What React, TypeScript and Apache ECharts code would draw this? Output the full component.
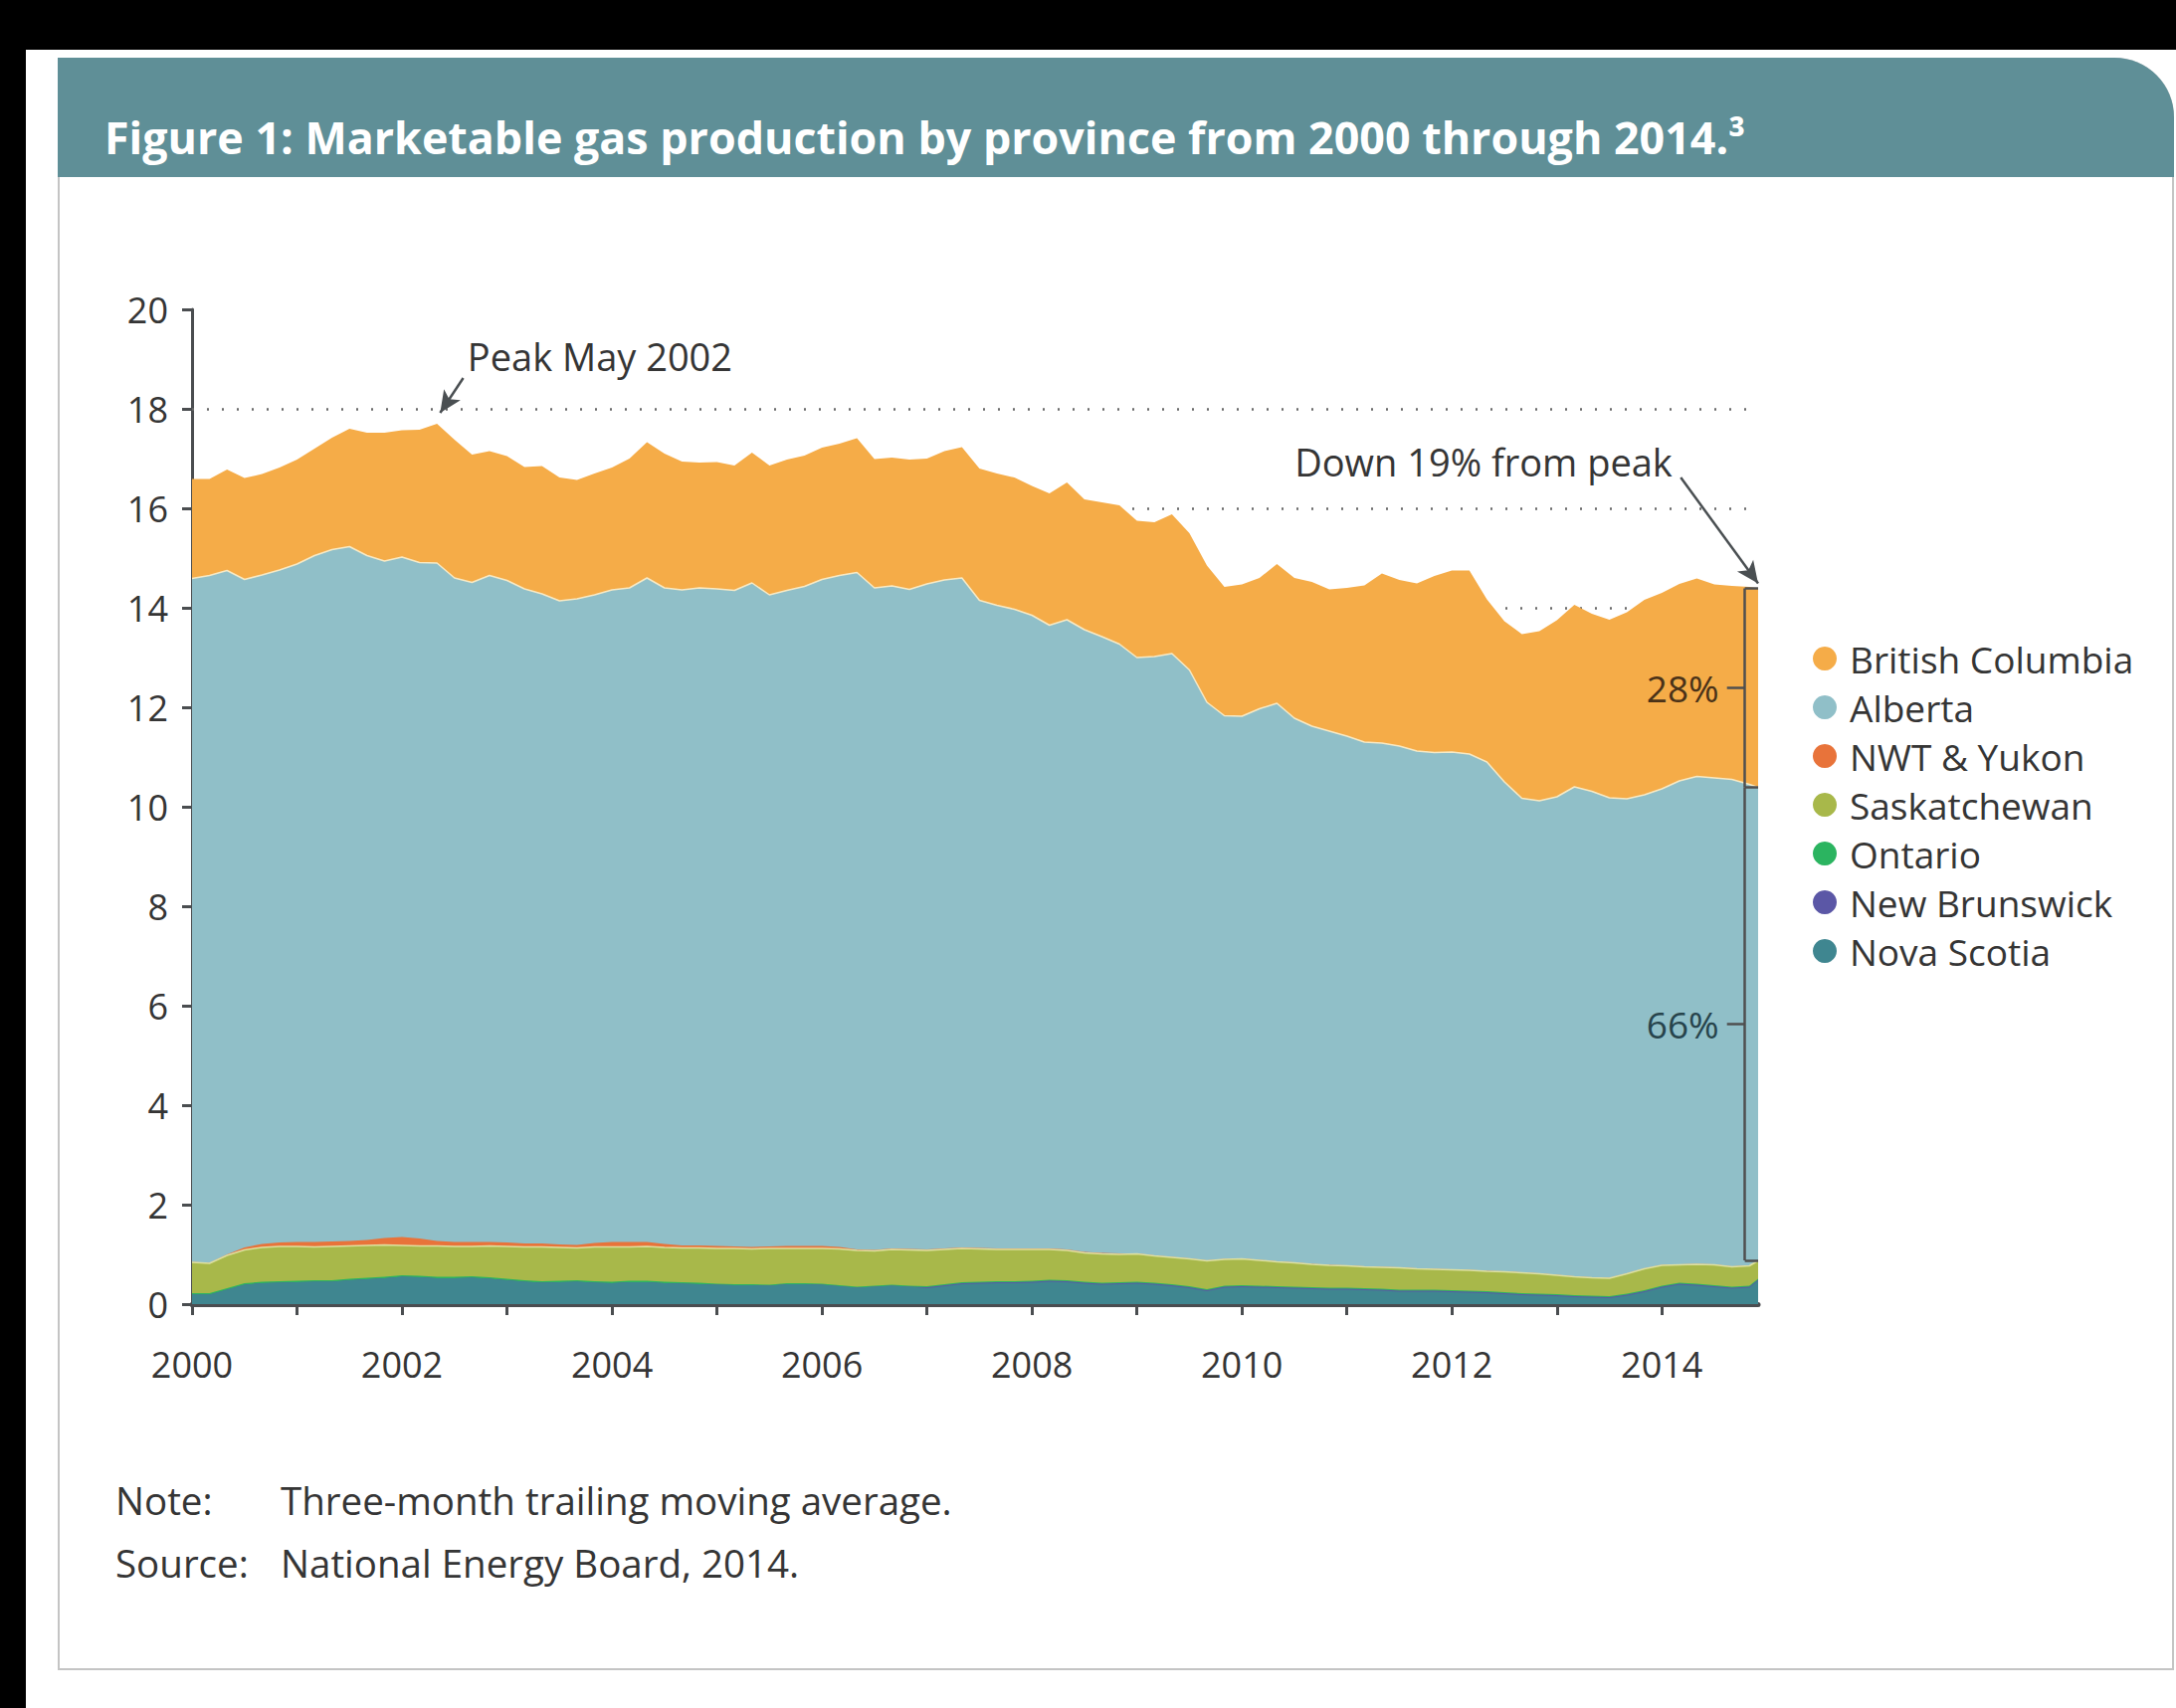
import React, { useEffect, useRef } from "react";
import * as echarts from "echarts";

// x sampling: every second month from Jan 2000, plus Dec 2014 (month index from Jan 2000)
const sampleMonths: number[] = [];
for (let m = 0; m < 180; m += 2) sampleMonths.push(m);
sampleMonths.push(179);

const tickYears = [2000, 2001, 2002, 2003, 2004, 2005, 2006, 2007, 2008, 2009, 2010, 2011, 2012, 2013, 2014];
const labelYears = [2000, 2002, 2004, 2006, 2008, 2010, 2012, 2014];
const guideLevels = [14, 16, 18];

const legendNames = ["British Columbia", "Alberta", "NWT & Yukon", "Saskatchewan", "Ontario", "New Brunswick", "Nova Scotia"];

const britishColumbia = [
  2.00, 1.94, 2.03, 2.04, 2.03, 2.06, 2.10, 2.15, 2.25, 2.37,
  2.47, 2.58, 2.55, 2.67, 2.80, 2.78, 2.57, 2.50, 2.50, 2.45,
  2.57, 2.48, 2.39, 2.44, 2.46, 2.60, 2.73, 2.70, 2.58, 2.52,
  2.55, 2.51, 2.62, 2.60, 2.63, 2.63, 2.65, 2.65, 2.70, 2.59,
  2.58, 2.61, 2.52, 2.59, 2.63, 2.65, 2.65, 2.65, 2.60, 2.65,
  2.76, 2.62, 2.70, 2.79, 2.75, 2.70, 2.80, 2.75, 2.75, 2.59,
  2.65, 2.63, 2.80, 2.82, 2.90, 2.85, 2.98, 3.15, 3.41, 3.34,
  3.37, 3.55, 3.65, 3.69, 3.27, 3.23, 3.30, 3.41, 3.55, 3.66,
  3.57, 3.58, 3.75, 3.92, 3.94, 3.96, 3.98, 3.89, 3.89, 3.97,
  4.00,
];
const alberta = [
  13.74, 13.82, 13.75, 13.43, 13.45, 13.52, 13.63, 13.80, 13.91, 13.96,
  13.76, 13.61, 13.67, 13.59, 13.63, 13.35, 13.26, 13.40, 13.31, 13.16,
  13.06, 12.94, 12.99, 13.03, 13.11, 13.15, 13.35, 13.19, 13.18, 13.22,
  13.21, 13.19, 13.35, 13.10, 13.18, 13.26, 13.40, 13.50, 13.61, 13.31,
  13.32, 13.26, 13.38, 13.44, 13.46, 13.02, 12.93, 12.85, 12.73, 12.53,
  12.66, 12.51, 12.39, 12.25, 11.98, 12.04, 12.13, 11.83, 11.22, 10.92,
  10.90, 11.08, 11.22, 10.94, 10.81, 10.73, 10.64, 10.54, 10.53, 10.48,
  10.40, 10.38, 10.40, 10.37, 10.23, 9.84, 9.53, 9.50, 9.61, 9.84,
  9.77, 9.65, 9.54, 9.52, 9.57, 9.72, 9.80, 9.78, 9.79, 9.67,
  9.51,
];
const nwtYukon = [
  0.01, 0.01, 0.02, 0.05, 0.07, 0.08, 0.09, 0.10, 0.10, 0.10,
  0.11, 0.14, 0.17, 0.15, 0.10, 0.09, 0.09, 0.08, 0.08, 0.07,
  0.07, 0.06, 0.06, 0.08, 0.10, 0.10, 0.09, 0.07, 0.05, 0.05,
  0.05, 0.04, 0.04, 0.04, 0.05, 0.05, 0.05, 0.04, 0.02, 0.02,
  0.02, 0.02, 0.02, 0.02, 0.02, 0.02, 0.02, 0.02, 0.02, 0.02,
  0.02, 0.02, 0.02, 0.02, 0.01, 0.01, 0.01, 0.01, 0.01, 0.01,
  0.01, 0.01, 0.01, 0.01, 0.01, 0.01, 0.01, 0.01, 0.01, 0.01,
  0.01, 0.01, 0.01, 0.01, 0.01, 0.01, 0.01, 0.01, 0.01, 0.01,
  0.01, 0.01, 0.01, 0.01, 0.01, 0.01, 0.01, 0.01, 0.01, 0.01,
  0.01,
];
const saskatchewan = [
  0.62, 0.60, 0.66, 0.67, 0.69, 0.70, 0.69, 0.67, 0.68, 0.66,
  0.65, 0.64, 0.60, 0.60, 0.62, 0.61, 0.60, 0.63, 0.65, 0.67,
  0.69, 0.67, 0.65, 0.69, 0.70, 0.68, 0.69, 0.69, 0.69, 0.70,
  0.71, 0.72, 0.71, 0.73, 0.70, 0.70, 0.71, 0.73, 0.73, 0.70,
  0.71, 0.72, 0.72, 0.70, 0.68, 0.66, 0.64, 0.64, 0.63, 0.61,
  0.60, 0.58, 0.58, 0.56, 0.56, 0.54, 0.54, 0.55, 0.57, 0.53,
  0.53, 0.51, 0.49, 0.48, 0.46, 0.45, 0.44, 0.43, 0.43, 0.44,
  0.42, 0.41, 0.41, 0.41, 0.40, 0.41, 0.41, 0.40, 0.38, 0.37,
  0.36, 0.36, 0.40, 0.43, 0.41, 0.36, 0.39, 0.41, 0.40, 0.40,
  0.36,
];
const ontario = [
  0.03, 0.03, 0.03, 0.03, 0.03, 0.03, 0.03, 0.03, 0.03, 0.03,
  0.03, 0.03, 0.03, 0.03, 0.03, 0.03, 0.03, 0.03, 0.03, 0.03,
  0.03, 0.03, 0.03, 0.03, 0.03, 0.03, 0.03, 0.03, 0.03, 0.03,
  0.02, 0.02, 0.02, 0.02, 0.02, 0.02, 0.02, 0.02, 0.02, 0.02,
  0.02, 0.02, 0.02, 0.02, 0.02, 0.02, 0.02, 0.02, 0.02, 0.02,
  0.02, 0.02, 0.02, 0.02, 0.02, 0.02, 0.02, 0.02, 0.02, 0.02,
  0.02, 0.02, 0.02, 0.02, 0.02, 0.02, 0.02, 0.02, 0.02, 0.02,
  0.02, 0.02, 0.02, 0.02, 0.02, 0.02, 0.02, 0.02, 0.02, 0.02,
  0.02, 0.02, 0.02, 0.02, 0.02, 0.02, 0.02, 0.02, 0.02, 0.02,
  0.02,
];
const newBrunswick = [
  0.00, 0.00, 0.00, 0.00, 0.00, 0.00, 0.00, 0.00, 0.00, 0.00,
  0.00, 0.00, 0.00, 0.00, 0.00, 0.00, 0.00, 0.00, 0.00, 0.00,
  0.00, 0.00, 0.00, 0.00, 0.00, 0.00, 0.00, 0.00, 0.00, 0.00,
  0.00, 0.00, 0.00, 0.00, 0.00, 0.00, 0.00, 0.00, 0.00, 0.00,
  0.00, 0.00, 0.02, 0.02, 0.02, 0.02, 0.02, 0.02, 0.02, 0.02,
  0.02, 0.02, 0.02, 0.02, 0.02, 0.02, 0.02, 0.02, 0.02, 0.02,
  0.02, 0.02, 0.02, 0.02, 0.02, 0.02, 0.02, 0.02, 0.02, 0.02,
  0.02, 0.02, 0.02, 0.02, 0.02, 0.02, 0.02, 0.02, 0.02, 0.02,
  0.02, 0.02, 0.02, 0.02, 0.02, 0.02, 0.02, 0.02, 0.02, 0.02,
  0.02,
];
const novaScotia = [
  0.19, 0.19, 0.29, 0.39, 0.42, 0.43, 0.44, 0.45, 0.45, 0.48,
  0.50, 0.52, 0.55, 0.54, 0.52, 0.52, 0.53, 0.51, 0.48, 0.45,
  0.43, 0.44, 0.45, 0.43, 0.42, 0.44, 0.44, 0.42, 0.41, 0.40,
  0.39, 0.38, 0.38, 0.37, 0.40, 0.40, 0.39, 0.36, 0.33, 0.35,
  0.37, 0.35, 0.32, 0.36, 0.40, 0.41, 0.42, 0.42, 0.43, 0.45,
  0.44, 0.41, 0.39, 0.40, 0.41, 0.39, 0.36, 0.32, 0.26, 0.33,
  0.34, 0.33, 0.32, 0.31, 0.30, 0.29, 0.29, 0.28, 0.27, 0.25,
  0.25, 0.25, 0.24, 0.23, 0.22, 0.20, 0.18, 0.17, 0.16, 0.14,
  0.13, 0.12, 0.17, 0.24, 0.33, 0.39, 0.37, 0.34, 0.31, 0.33,
  0.47,
];

const FONT = '"Open Sans", "Noto Sans", "DejaVu Sans", sans-serif';
const TEXT = "#353535";
const AXIS = "#4a4d50";

const COLORS = {
  bc: "#F5AC48",
  ab: "#90BFC8",
  nwt: "#E8733A",
  sk: "#A8B84A",
  on: "#2BB460",
  nb: "#5B57A6",
  ns: "#3F8690",
};

export default function App() {
  const ref = useRef<HTMLDivElement>(null);

  useEffect(() => {
    if (!ref.current) return;
    const chart = echarts.init(ref.current, null, { renderer: "svg" });

    const xs = sampleMonths.map((m) => 2000 + m / 12);
    const last = xs.length - 1;
    const xEnd = xs[last];

    // stacking order from the bottom up
    const layers = [
      { name: "Nova Scotia", vals: novaScotia, color: COLORS.ns },
      { name: "New Brunswick", vals: newBrunswick, color: COLORS.nb },
      { name: "Ontario", vals: ontario, color: COLORS.on },
      { name: "Saskatchewan", vals: saskatchewan, color: COLORS.sk, line: "rgba(225,232,170,0.9)" },
      { name: "NWT & Yukon", vals: nwtYukon, color: COLORS.nwt },
      { name: "Alberta", vals: alberta, color: COLORS.ab, line: "rgba(250,236,200,0.95)" },
      { name: "British Columbia", vals: britishColumbia, color: COLORS.bc },
    ];
    const running = xs.map(() => 0);
    const cumulative = layers.map((l) => {
      const tops = running.map((r, i) => r + l.vals[i]);
      tops.forEach((t, i) => (running[i] = t));
      return tops;
    });
    const totals = cumulative[cumulative.length - 1];

    let peakI = 0;
    totals.forEach((t, i) => {
      if (t > totals[peakI]) peakI = i;
    });
    const peakX = xs[peakI];
    const peakV = totals[peakI];

    const base = cumulative[4][last];
    const abTop = cumulative[5][last];
    const top = totals[last];
    const bcPct = Math.round((britishColumbia[last] / top) * 100);
    const abPct = Math.round((alberta[last] / top) * 100);
    const downPct = Math.round(((peakV - top) / peakV) * 100);

    const xb = 2014.79;
    const xTick = 2014.62;

    // draw the tallest cumulative layer first so lower layers sit on top of it
    const areaSeries = layers
      .map((l, li) => ({
        name: l.name,
        type: "line",
        data: xs.map((x, i) => [x, cumulative[li][i]]),
        symbol: "none",
        showSymbol: false,
        color: l.color,
        itemStyle: { color: l.color },
        lineStyle: l.line ? { width: 1.5, color: l.line } : { width: 0, color: l.color },
        areaStyle: { color: l.color, opacity: 1, origin: "start" },
        emphasis: { disabled: true },
        silent: true,
        z: 2,
      }))
      .reverse();

    const labelBase = { fontFamily: FONT, color: TEXT, fontSize: 37 };

    chart.setOption({
      animation: false,
      backgroundColor: "transparent",
      textStyle: { fontFamily: FONT },
      grid: { left: 193, top: 311, right: 2187 - 1767, bottom: 1717 - 1311, outerBoundsMode: "none" },
      legend: {
        data: legendNames,
        orient: "vertical",
        left: 1817,
        top: 638,
        itemWidth: 40,
        itemHeight: 24,
        itemGap: 11,
        icon: "circle",
        selectedMode: false,
        textStyle: { fontFamily: FONT, fontSize: 37, color: TEXT, lineHeight: 38 },
      },
      xAxis: {
        type: "value",
        min: 2000,
        max: xEnd,
        interval: 1,
        axisLine: { show: true, lineStyle: { color: AXIS, width: 5 } },
        axisTick: { show: true, length: 11, lineStyle: { color: AXIS, width: 3 }, customValues: tickYears },
        axisLabel: {
          customValues: labelYears,
          fontSize: 36,
          fontFamily: FONT,
          color: TEXT,
          margin: 42,
          formatter: (v: number) => String(Math.round(v)),
        },
        splitLine: { show: false },
      },
      yAxis: {
        type: "value",
        min: 0,
        max: 20,
        interval: 2,
        axisLine: { show: true, lineStyle: { color: AXIS, width: 3 } },
        axisTick: { show: true, length: 10, lineStyle: { color: AXIS, width: 3 } },
        axisLabel: { fontSize: 36, fontFamily: FONT, color: TEXT, margin: 24 },
        splitLine: { show: false },
      },
      series: [
        ...areaSeries,
        {
          name: "guides",
          type: "line",
          data: [],
          silent: true,
          markLine: {
            z: 1,
            silent: true,
            symbol: "none",
            label: { show: false },
            emphasis: { disabled: true },
            lineStyle: { color: "#6a6a6a", width: 2.5, type: [2, 13] },
            data: guideLevels.map((v) => ({ yAxis: v })),
          },
        },
        {
          name: "brackets",
          type: "line",
          data: [],
          silent: true,
          markLine: {
            z: 10,
            silent: true,
            symbol: "none",
            label: { show: false },
            emphasis: { disabled: true },
            lineStyle: { color: "#4f4f4f", width: 2.5, type: "solid" },
            data: [
              [{ coord: [xb, top] }, { coord: [xb, abTop] }],
              [{ coord: [xb, top] }, { coord: [xEnd, top] }],
              [{ coord: [xb, abTop] }, { coord: [xEnd, abTop] }],
              [{ coord: [xTick, (top + abTop) / 2] }, { coord: [xb, (top + abTop) / 2] }],
              [{ coord: [xb, abTop] }, { coord: [xb, base] }],
              [{ coord: [xb, base] }, { coord: [xEnd, base] }],
              [{ coord: [xTick, (abTop + base) / 2] }, { coord: [xb, (abTop + base) / 2] }],
            ],
          },
        },
        {
          name: "notes",
          type: "line",
          data: [],
          silent: true,
          markLine: {
            z: 10,
            silent: true,
            symbol: ["none", "arrow"],
            symbolSize: [15, 22],
            label: { show: false },
            emphasis: { disabled: true },
            lineStyle: { color: "#4a4f52", width: 2.5, type: "solid" },
            data: [
              [{ coord: [peakX + 0.25, peakV + 0.92] }, { coord: [peakX + 0.03, peakV + 0.22] }],
              [{ coord: [2014.18, 16.62] }, { coord: [xEnd, top + 0.1] }],
            ],
          },
          markPoint: {
            z: 10,
            silent: true,
            symbol: "circle",
            symbolSize: 0,
            itemStyle: { color: "transparent" },
            data: [
              {
                coord: [peakX + 0.29, 19.06],
                label: { show: true, position: "right", distance: 0, formatter: "Peak May 2002", ...labelBase, fontSize: 38 },
              },
              {
                coord: [2014.1, 16.94],
                label: { show: true, position: "left", distance: 0, formatter: `Down ${downPct}% from peak`, ...labelBase, fontSize: 38 },
              },
              {
                coord: [xTick, (top + abTop) / 2],
                label: { show: true, position: "left", distance: 8, formatter: `${bcPct}%`, ...labelBase, color: "#4a3218", fontSize: 37 },
              },
              {
                coord: [xTick, (abTop + base) / 2],
                label: { show: true, position: "left", distance: 8, formatter: `${abPct}%`, ...labelBase, color: "#27444c", fontSize: 37 },
              },
            ],
          },
        },
      ],
      graphic: [
        {
          type: "text",
          x: 105,
          y: 137,
          silent: true,
          style: {
            text: "Figure 1: Marketable gas production by province from 2000 through 2014.\u00B3",
            fill: "#ffffff",
            fontSize: 44.8,
            fontWeight: "bold",
            fontFamily: FONT,
            verticalAlign: "middle",
          },
        },
        { type: "text", x: 116, y: 1508, silent: true, style: { text: "Note:", fill: TEXT, fontSize: 38.5, fontFamily: FONT, verticalAlign: "middle" } },
        { type: "text", x: 282, y: 1508, silent: true, style: { text: "Three-month trailing moving average.", fill: TEXT, fontSize: 38.5, fontFamily: FONT, verticalAlign: "middle" } },
        { type: "text", x: 116, y: 1571, silent: true, style: { text: "Source:", fill: TEXT, fontSize: 38.5, fontFamily: FONT, verticalAlign: "middle" } },
        { type: "text", x: 282, y: 1571, silent: true, style: { text: "National Energy Board, 2014.", fill: TEXT, fontSize: 38.5, fontFamily: FONT, verticalAlign: "middle" } },
      ],
    });

    return () => chart.dispose();
  }, []);

  return (
    <div style={{ position: "absolute", left: 0, top: 0, width: 2187, height: 1717, background: "#ffffff", overflow: "hidden" }}>
      <div style={{ position: "absolute", left: 0, top: 0, width: 2187, height: 50, background: "#000" }} />
      <div style={{ position: "absolute", left: 0, top: 0, width: 26, height: 1717, background: "#000" }} />
      <div
        style={{
          position: "absolute",
          left: 58,
          top: 58,
          width: 2123,
          height: 1617,
          background: "#fff",
          border: "2px solid #c4c4c4",
          borderTopRightRadius: 60,
        }}
      />
      <div
        style={{
          position: "absolute",
          left: 58,
          top: 58,
          width: 2127,
          height: 120,
          background: "#5f8f97",
          borderTopRightRadius: 60,
        }}
      />
      <div ref={ref} style={{ position: "absolute", left: 0, top: 0, width: 2187, height: 1717 }} />
    </div>
  );
}
